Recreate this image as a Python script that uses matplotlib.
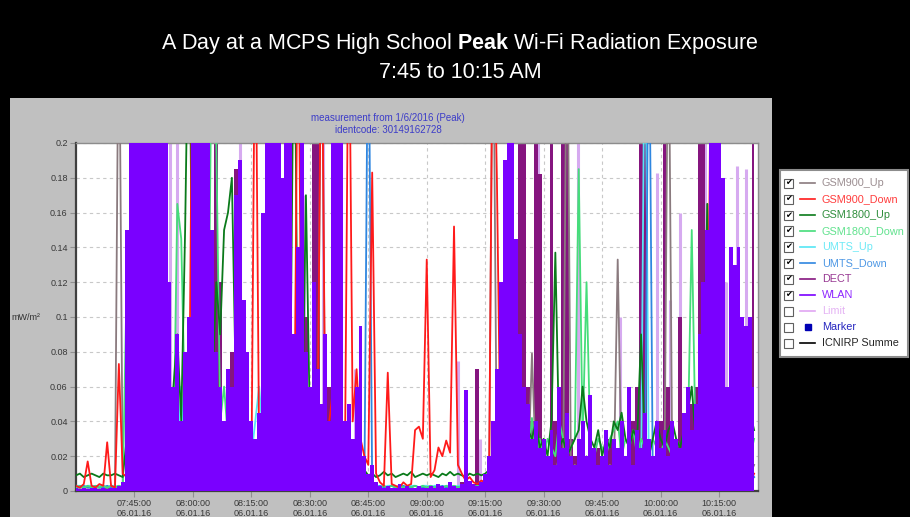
import numpy as np
import pandas as pd
import matplotlib
matplotlib.use('Agg')
import matplotlib.pyplot as plt
import matplotlib.dates as mdates
from matplotlib.patches import Rectangle
from matplotlib.lines import Line2D
from matplotlib.ticker import FuncFormatter

plt.rcParams['font.family'] = ['Liberation Sans', 'DejaVu Sans']
plt.rcParams['mathtext.fontset'] = 'custom'
plt.rcParams['mathtext.rm'] = 'Liberation Sans'
plt.rcParams['mathtext.bf'] = 'Liberation Sans:bold'

# values, one per minute from 07:30, unit 0.001 mW/m2 (>200 = off the scale)
wlan = [2, 1, 2, 1, 2, 2, 1, 2, 1, 2, 2, 3, 5, 150, 300,
        300, 300, 300, 300, 300, 300, 300, 300, 300, 120, 60, 90, 40, 80, 100,
        300, 300, 300, 300, 300, 150, 80, 60, 40, 70, 60, 170, 190, 110, 80,
        40, 30, 45, 160, 300, 300, 250, 300, 180, 300, 200, 90, 140, 300, 80,
        60, 120, 70, 50, 90, 40, 300, 300, 250, 40, 50, 30, 60, 95, 20,
        10, 15, 5, 3, 2, 3, 2, 2, 4, 2, 3, 2, 2, 3, 2,
        2, 3, 2, 4, 3, 2, 5, 3, 2, 4, 58, 6, 4, 3, 5,
        10, 20, 40, 70, 120, 190, 300, 300, 145, 90, 60, 50, 30, 40, 25,
        30, 20, 35, 15, 60, 25, 45, 20, 15, 30, 40, 20, 55, 25, 15,
        20, 35, 15, 30, 25, 40, 20, 60, 15, 35, 25, 45, 30, 20, 40,
        25, 35, 20, 40, 30, 25, 45, 60, 35, 50, 90, 120, 150, 300, 300,
        300, 180, 60, 140, 130, 140, 100, 95, 100, 60]

dect = [1, 1, 2, 1, 1, 2, 1, 1, 2, 1, 1, 2, 3, 20, 60,
        80, 40, 120, 60, 90, 50, 150, 70, 100, 60, 30, 50, 20, 40, 30,
        60, 40, 80, 30, 50, 70, 300, 120, 30, 50, 80, 185, 150, 60, 40,
        30, 20, 25, 60, 90, 40, 80, 50, 60, 40, 300, 60, 70, 40, 100,
        50, 300, 300, 40, 30, 60, 200, 300, 80, 30, 40, 20, 30, 40, 10,
        5, 3, 2, 2, 1, 2, 1, 2, 1, 1, 2, 1, 2, 1, 2,
        1, 2, 1, 2, 1, 2, 1, 2, 3, 5, 2, 3, 4, 70, 3,
        5, 8, 15, 20, 40, 60, 80, 50, 120, 300, 300, 60, 40, 300, 182,
        30, 20, 300, 40, 60, 300, 300, 30, 20, 15, 25, 20, 30, 15, 25,
        20, 15, 30, 20, 25, 25, 20, 30, 40, 60, 300, 300, 30, 20, 25,
        40, 300, 60, 30, 25, 100, 40, 30, 50, 60, 300, 300, 90, 50, 40,
        30, 40, 25, 35, 45, 30, 40, 25, 60, 300]

gsm1800_up = [9, 10, 8, 9, 10, 9, 8, 10, 9, 9, 10, 9, 8, 30, 20,
              15, 20, 10, 25, 15, 20, 30, 12, 40, 50, 60, 90, 40, 150, 300,
              60, 20, 30, 40, 80, 60, 120, 90, 150, 160, 180, 60, 40, 30, 20,
              15, 25, 20, 40, 30, 60, 140, 90, 40, 50, 60, 300, 40, 30, 170,
              40, 30, 20, 15, 25, 30, 20, 15, 20, 25, 15, 20, 30, 15, 12,
              9, 10, 8, 9, 11, 9, 10, 8, 9, 10, 9, 11, 8, 9, 10,
              9, 10, 9, 8, 10, 9, 11, 9, 10, 9, 8, 10, 9, 10, 9,
              10, 12, 15, 20, 30, 25, 40, 20, 30, 25, 20, 35, 30, 40, 25,
              30, 20, 40, 137, 25, 30, 20, 25, 30, 35, 60, 40, 30, 25, 35,
              20, 30, 25, 40, 35, 45, 30, 25, 35, 30, 90, 25, 20, 30, 40,
              30, 25, 35, 40, 30, 25, 35, 45, 60, 30, 50, 60, 165, 40, 30,
              25, 30, 40, 35, 30, 55, 40, 30, 45, 35]

gsm1800_down = [2, 3, 2, 3, 2, 3, 2, 3, 2, 3, 2, 3, 2, 120, 10,
                20, 10, 30, 15, 10, 20, 15, 30, 20, 10, 20, 165, 145, 40, 60,
                30, 20, 40, 60, 80, 300, 200, 40, 60, 30, 20, 40, 30, 20, 15,
                10, 20, 15, 30, 20, 40, 60, 30, 20, 40, 30, 60, 20, 15, 30,
                20, 15, 10, 20, 15, 10, 20, 15, 10, 8, 5, 6, 4, 3, 4,
                3, 2, 3, 2, 3, 2, 3, 2, 3, 2, 3, 2, 3, 2, 3,
                2, 3, 2, 3, 2, 3, 2, 3, 2, 3, 2, 3, 2, 3, 2,
                3, 5, 8, 10, 15, 10, 20, 15, 10, 20, 25, 15, 42, 20, 30,
                20, 30, 25, 20, 40, 30, 20, 25, 30, 185, 30, 120, 25, 20, 30,
                25, 20, 30, 35, 40, 20, 30, 25, 35, 20, 30, 25, 20, 30, 25,
                20, 30, 25, 20, 30, 25, 20, 30, 150, 25, 30, 40, 30, 20, 25,
                20, 25, 30, 20, 25, 30, 35, 25, 20, 30]

gsm900_down = [3, 2, 4, 17, 3, 2, 4, 3, 28, 3, 2, 73, 10, 8, 5,
               10, 5, 12, 8, 15, 6, 10, 20, 8, 12, 6, 10, 15, 8, 30,
               300, 15, 10, 20, 8, 12, 6, 10, 25, 18, 30, 15, 10, 8, 12,
               6, 300, 20, 40, 15, 10, 60, 12, 8, 15, 10, 25, 300, 15, 10,
               20, 15, 30, 300, 25, 40, 60, 30, 20, 15, 300, 40, 70, 30, 20,
               15, 183, 10, 5, 3, 68, 4, 3, 2, 5, 3, 4, 35, 37, 30,
               133, 8, 12, 25, 20, 29, 22, 152, 15, 10, 6, 8, 5, 4, 6,
               5, 8, 300, 180, 10, 8, 12, 6, 10, 5, 8, 6, 10, 5, 8,
               5, 8, 6, 10, 5, 12, 6, 8, 5, 10, 6, 8, 5, 12, 6,
               8, 5, 10, 6, 8, 5, 12, 6, 8, 5, 10, 6, 8, 5, 10,
               6, 8, 5, 10, 6, 8, 5, 12, 6, 8, 5, 10, 6, 300, 8,
               5, 10, 6, 8, 5, 12, 6, 8, 5, 10]

gsm900_up = [1, 1, 1, 1, 1, 1, 1, 1, 1, 1, 1, 300, 2, 5, 10,
             8, 15, 10, 20, 12, 8, 15, 10, 20, 15, 10, 8, 12, 20, 15,
             10, 20, 15, 8, 12, 20, 10, 15, 8, 12, 20, 10, 15, 8, 12,
             20, 10, 15, 30, 10, 20, 15, 10, 25, 15, 10, 20, 15, 10, 20,
             15, 10, 20, 300, 15, 10, 20, 12, 8, 10, 5, 8, 4, 3, 2,
             1, 1, 1, 1, 1, 1, 1, 1, 1, 1, 1, 1, 1, 1, 1,
             1, 1, 1, 1, 1, 1, 1, 1, 1, 1, 1, 1, 1, 1, 2,
             3, 5, 300, 10, 15, 8, 12, 20, 10, 15, 10, 8, 79, 15, 10,
             12, 8, 15, 10, 20, 12, 300, 10, 15, 8, 12, 20, 10, 15, 8,
             12, 10, 15, 8, 133, 10, 12, 15, 8, 10, 12, 15, 8, 12, 10,
             15, 8, 300, 12, 10, 15, 8, 12, 10, 15, 20, 10, 165, 12, 8,
             10, 15, 8, 12, 10, 15, 8, 12, 10, 15]

umts_up = [3, 3, 2, 3, 3, 2, 3, 3, 2, 3, 3, 2, 3, 5, 10,
           15, 8, 20, 10, 30, 12, 8, 15, 25, 10, 40, 20, 60, 15, 10,
           20, 10, 30, 15, 40, 60, 20, 10, 15, 30, 20, 10, 25, 15, 30,
           20, 40, 60, 30, 15, 20, 10, 25, 15, 30, 20, 10, 15, 20, 10,
           15, 10, 20, 8, 15, 10, 5, 8, 15, 6, 10, 4, 3, 3, 2,
           3, 2, 3, 3, 2, 3, 3, 2, 3, 3, 2, 3, 3, 2, 3,
           3, 2, 3, 3, 2, 3, 3, 2, 3, 3, 2, 3, 3, 2, 3,
           3, 4, 5, 8, 6, 10, 8, 5, 12, 6, 8, 10, 6, 8, 5,
           8, 5, 10, 6, 8, 12, 6, 5, 8, 10, 6, 8, 12, 5, 8,
           6, 10, 5, 8, 6, 12, 8, 5, 10, 6, 8, 300, 8, 6, 10,
           5, 8, 6, 10, 5, 8, 12, 6, 8, 5, 10, 6, 8, 5, 10,
           6, 8, 5, 12, 6, 8, 5, 10, 6, 8]

umts_down = [2, 2, 3, 2, 2, 3, 2, 2, 3, 2, 2, 3, 2, 4, 8,
             10, 20, 8, 15, 30, 10, 50, 12, 20, 8, 15, 30, 10, 20, 40,
             15, 30, 10, 20, 8, 25, 15, 40, 20, 10, 30, 15, 20, 10, 25,
             15, 10, 25, 20, 40, 15, 30, 20, 10, 15, 60, 20, 15, 10, 20,
             10, 15, 20, 10, 15, 8, 12, 20, 10, 15, 20, 8, 5, 3, 2,
             300, 2, 2, 3, 2, 2, 3, 2, 2, 3, 2, 2, 3, 2, 2,
             2, 3, 2, 2, 3, 2, 2, 3, 2, 2, 3, 2, 2, 3, 2,
             3, 4, 6, 5, 8, 10, 6, 8, 5, 10, 6, 8, 12, 6, 8,
             6, 10, 5, 8, 12, 6, 10, 5, 8, 6, 12, 8, 5, 10, 6,
             8, 5, 10, 6, 12, 8, 5, 10, 6, 8, 12, 5, 300, 8, 6,
             10, 5, 8, 12, 6, 10, 5, 8, 6, 12, 8, 5, 10, 6, 8,
             5, 10, 8, 6, 12, 5, 8, 10, 6, 8]

# light violet peak traces: minute after 07:30 and height
peak_min = [22, 23, 24, 26, 42, 53, 58.5, 63.5, 71.5, 98, 103.6, 110, 118.5, 128.8,
            139.5, 145, 149, 152.3, 155, 161.5, 166.8, 169.5, 172]
peak_val = [300, 300, 300, 200, 300, 170, 170, 300, 70, 75, 30, 190, 300, 300,
            100, 300, 183, 110, 160, 300, 120, 187, 185]

legend_names = ['GSM900_Up', 'GSM900_Down', 'GSM1800_Up', 'GSM1800_Down', 'UMTS_Up',
                'UMTS_Down', 'DECT', 'WLAN', 'Limit', 'Marker', 'ICNIRP Summe']
legend_colors = ['#8a7a7e', '#ff1a1a', '#0a7a1a', '#45dd7a', '#55e6f5',
                 '#2f86e0', '#85157f', '#7a00ff', '#e0a6f2', '#0000b4', '#000000']
checked = [True] * 8 + [False] * 3

start = pd.Timestamp('2016-01-06 07:30')
t = start + pd.to_timedelta(np.arange(len(wlan)), unit='min')

W, H = 910, 517
fig = plt.figure(figsize=(W / 100, H / 100), dpi=100, facecolor='black')

# grey panel
fig.add_artist(Rectangle((10 / W, 0), 762 / W, 419 / H, transform=fig.transFigure,
                         facecolor='#c0c0c0', edgecolor='none', zorder=0))

fig.text(460 / W, 1 - 43 / H, r'A Day at a MCPS High School $\mathbf{Peak}$ Wi-Fi Radiation Exposure',
         ha='center', va='center', color='white', fontsize=15.5)
fig.text(460 / W, 1 - 72 / H, '7:45 to 10:15 AM', ha='center', va='center', color='white', fontsize=15.5)

fig.text(388 / W, 1 - 118 / H, 'measurement from 1/6/2016 (Peak)', ha='center', va='center',
         color='#3c3cc8', fontsize=7)
fig.text(388 / W, 1 - 130 / H, 'identcode: 30149162728', ha='center', va='center',
         color='#3c3cc8', fontsize=7)
fig.text(26 / W, 1 - 317 / H, 'mW/m²', ha='center', va='center', color='#303030', fontsize=6.5)

ax = fig.add_axes([76 / W, 26 / H, 682 / W, 348 / H])
ax.set_facecolor('white')

# light peaks behind everything
ax.vlines(start + pd.to_timedelta(peak_min, unit='min'), 0, np.array(peak_val) / 1000,
          color='#d6aaf0', lw=2.2, zorder=1.5)

# DECT as dense bars, then the thin channels, WLAN bars on top
ax.fill_between(t, 0, np.array(dect) / 1000, step='mid', color=legend_colors[6], lw=0, zorder=2)
series = [gsm900_up, umts_up, umts_down, gsm1800_down, gsm1800_up, gsm900_down]
idx = [0, 4, 5, 3, 2, 1]
for s, i in zip(series, idx):
    ax.plot(t, np.array(s) / 1000, color=legend_colors[i], lw=1.3, zorder=3)
ax.fill_between(t, 0, np.array(wlan) / 1000, step='mid', color=legend_colors[7], lw=0, zorder=4)

ax.set_xlim(start, start + pd.Timedelta(minutes=175))
ax.set_ylim(0, 0.2)
ax.set_yticks(np.arange(0, 0.2001, 0.02))
ax.yaxis.set_major_formatter(FuncFormatter(lambda v, p: '%g' % round(v, 2)))
ax.set_xticks(start + pd.to_timedelta(np.arange(15, 166, 15), unit='min'))
ax.xaxis.set_major_formatter(mdates.DateFormatter('%H:%M:%S\n%d.%m.%y'))
ax.tick_params(axis='both', labelsize=6.5, labelcolor='#383838', color='#909090', length=4)
ax.tick_params(axis='x', pad=2)
ax.tick_params(axis='y', pad=2)
for lab in ax.get_xticklabels():
    lab.set_linespacing(1.05)
ax.grid(True, color='#c8c8c8', ls=(0, (3, 3)), lw=0.8)
ax.set_axisbelow(True)
for side in ['left', 'bottom']:
    ax.spines[side].set_color('#404040')
    ax.spines[side].set_linewidth(1.6)
for side in ['top', 'right']:
    ax.spines[side].set_color('#8c8c8c')
    ax.spines[side].set_linewidth(1.0)

# legend panel on the right
fig.add_artist(Rectangle((780 / W, 1 - 357 / H), 128 / W, 187 / H, transform=fig.transFigure,
                         facecolor='white', edgecolor='#8c8c8c', lw=1.5, zorder=1))
for k, name in enumerate(legend_names):
    y = 1 - (183 + 16 * k) / H
    fig.add_artist(Rectangle((784 / W, y - 4.5 / H), 9 / W, 9 / H, transform=fig.transFigure,
                             facecolor='white', edgecolor='#606060', lw=0.8, zorder=2))
    if checked[k]:
        fig.text(788.5 / W, y, '✔', family='DejaVu Sans', fontsize=6, color='black',
                 ha='center', va='center', zorder=3)
    if name == 'Marker':
        fig.add_artist(Line2D([807.5 / W], [y], marker='s', ms=4, color=legend_colors[k],
                              lw=0, transform=fig.transFigure, zorder=2))
    else:
        fig.add_artist(Line2D([800 / W, 815 / W], [y, y], color=legend_colors[k], lw=1.2,
                              transform=fig.transFigure, zorder=2))
    fig.text(822 / W, y, name, color=legend_colors[k], fontsize=7.8, ha='left', va='center',
             alpha=0.85, zorder=2)

fig.savefig('out.png', dpi=100, facecolor='black')
